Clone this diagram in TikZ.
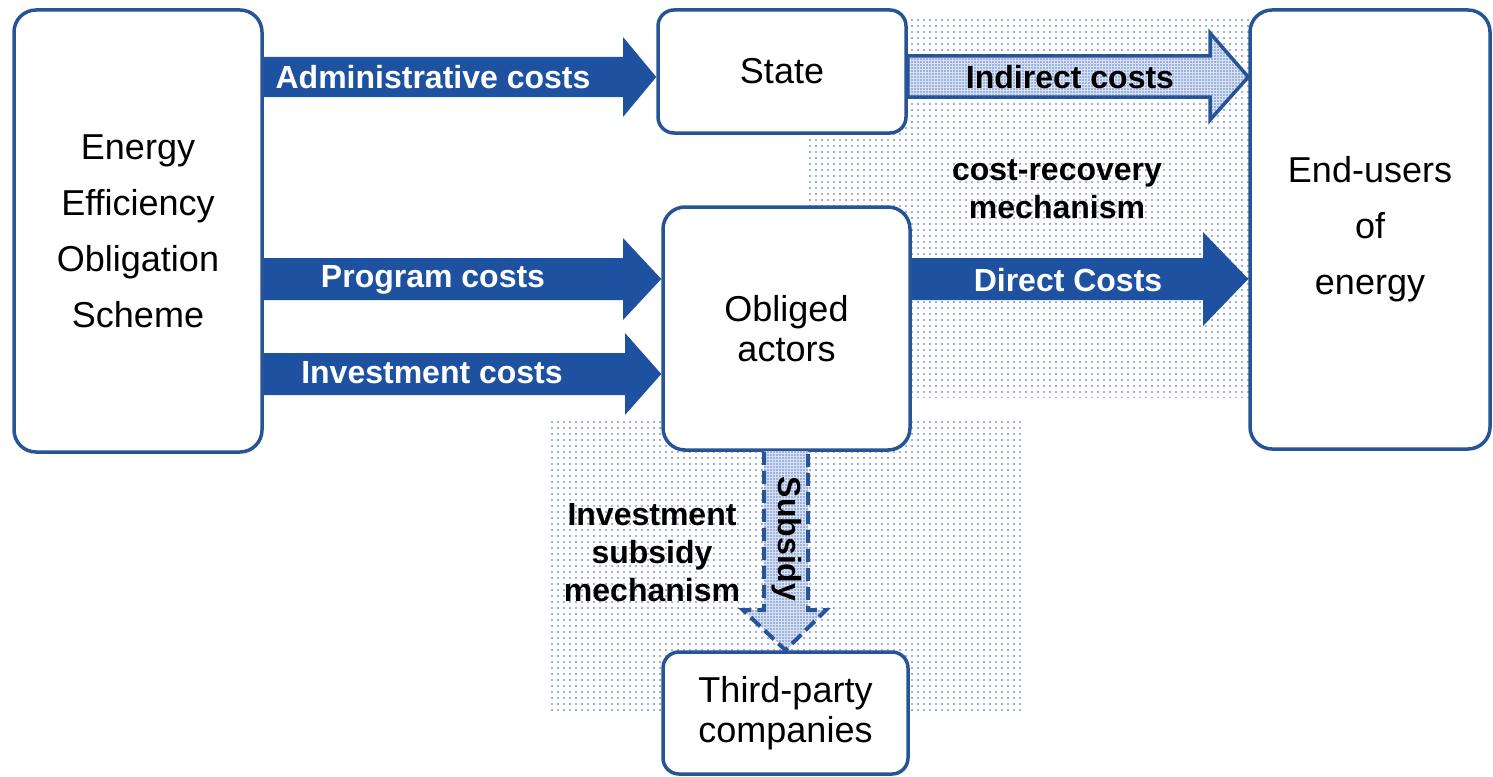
\documentclass[tikz,border=0pt]{standalone}
\usepackage{fontspec}
\setmainfont{Liberation Sans}
\usetikzlibrary{patterns.meta}
\definecolor{dblue}{RGB}{30,82,160}
\definecolor{bborder}{RGB}{38,84,150}
\definecolor{dotc}{RGB}{60,100,185}
\definecolor{lightfill}{RGB}{215,225,242}
\begin{document}
\begin{tikzpicture}[x=1pt,y=-1pt,
  box/.style={draw=bborder, line width=3.5pt, fill=white, rounded corners=22pt, inner sep=0pt},
  smallbox/.style={box, rounded corners=16pt},
  bigtxt/.style={font=\fontsize{36}{56}\selectfont, align=center},
  midtxt/.style={font=\fontsize{36}{40}\selectfont, align=center},
  lbl/.style={font=\fontsize{32}{38}\selectfont\bfseries, align=center, inner sep=0pt},
  dotarea/.style={pattern={Dots[radius=0.9pt,distance=6pt]}, pattern color=dotc},
  densedots/.style={pattern={Dots[radius=0.8pt,distance=3pt]}, pattern color=dotc!80},
  solidarrow/.style={fill=dblue},
  outlinearrow/.style={draw=bborder, line width=3.5pt, line join=miter},
  dasharrow/.style={draw=bborder, line width=4pt, dash pattern=on 13pt off 6pt},
]
\useasboundingbox (0,0) rectangle (1493,776);
% dotted background areas
\path[dotarea] (805,18) rectangle (1250,397);
\path[dotarea] (550,420) rectangle (1025,714);
% boxes
\node[box, bigtxt, minimum width=248pt, minimum height=442pt] (ees) at (138,231) {Energy\\Efficiency\\Obligation\\Scheme};
\node[smallbox, bigtxt, minimum width=248pt, minimum height=123pt] (state) at (782,71.5) {State};
\node[box, midtxt, minimum width=247pt, minimum height=243pt] (obl) at (786.5,328.5) {Obliged\\actors};
\node[box, bigtxt, minimum width=240pt, minimum height=439pt] (end) at (1370,229.5) {End-users\\of\\energy};
\node[smallbox, midtxt, minimum width=245pt, minimum height=122pt] (third) at (785.5,713) {Third-party\\companies};
% solid arrows
\fill[solidarrow] (ees.east |- 0,57) -- (623,57) -- (623,37) -- (state.west |- 0,77) -- (623,117) -- (623,97) -- (ees.east |- 0,97) -- cycle;
\fill[solidarrow] (ees.east |- 0,258) -- (623,258) -- (623,238) -- (obl.west |- 0,279) -- (623,320) -- (623,300) -- (ees.east |- 0,300) -- cycle;
\fill[solidarrow] (ees.east |- 0,353) -- (625,353) -- (625,333) -- (obl.west |- 0,374) -- (625,415) -- (625,395) -- (ees.east |- 0,395) -- cycle;
\fill[solidarrow] (obl.east |- 0,258) -- (1203,258) -- (1203,232) -- (end.west |- 0,279) -- (1203,326) -- (1203,300) -- (obl.east |- 0,300) -- cycle;
% indirect costs arrow
\path[fill=lightfill] (state.east |- 0,56) -- (1210,56) -- (1210,33) -- (end.west |- 0,77) -- (1210,120) -- (1210,97) -- (state.east |- 0,97) -- cycle;
\path[densedots] (state.east |- 0,56) -- (1210,56) -- (1210,33) -- (end.west |- 0,77) -- (1210,120) -- (1210,97) -- (state.east |- 0,97) -- cycle;
\draw[outlinearrow] (state.east |- 0,56) -- (1210,56) -- (1210,33) -- (end.west |- 0,77) -- (1210,120) -- (1210,97) -- (state.east |- 0,97) -- cycle;
% subsidy arrow
\path[fill=lightfill] (764,451) -- (764,610) -- (743,610) -- (786,650) -- (826,610) -- (808,610) -- (808,451) -- cycle;
\path[densedots] (764,451) -- (764,610) -- (743,610) -- (786,650) -- (826,610) -- (808,610) -- (808,451) -- cycle;
\draw[dasharrow] (obl.south -| 764,0) -- (764,610) -- (743,610) -- (third.north) -- (826,610) -- (808,610) -- (obl.south -| 808,0);
% labels
\node[lbl, text=white] (la) at (433,77) {Administrative costs};
\node[lbl, text=white] (lp) at (433,280) {Program costs};
\node[lbl, text=white] (li) at (432,373) {Investment costs};
\node[lbl, text=white] (ld) at (1068,280) {Direct Costs};
\node[lbl] (lind) at (1070,77) {Indirect costs};
\node[lbl] (lcr) at (1057,189) {cost-recovery\\mechanism};
\node[lbl] (lis) at (652,553) {Investment\\subsidy\\mechanism};
\node[lbl, rotate=-90] (ls) at (787,539) {Subsidy};
\end{tikzpicture}
\end{document}
